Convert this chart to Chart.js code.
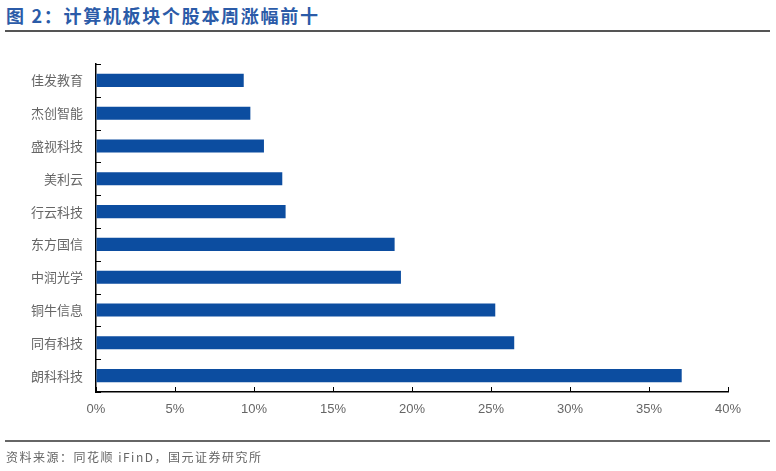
<!DOCTYPE html>
<html>
<head>
<meta charset="utf-8">
<script src="https://cdn.jsdelivr.net/npm/chart.js@4.4.0/dist/chart.umd.min.js"></script>
<style>
  body { margin: 0; background: #fff; width: 776px; height: 471px; position: relative; overflow: hidden; }
  #title { position: absolute; left: 6px; top: 2px; font: bold 18px "Noto Sans CJK SC", sans-serif; color: #2b5ba8; letter-spacing: 1.7px; }
  #topline { position: absolute; left: 5px; top: 30px; width: 765px; height: 2px; background: #555; }
  #botline { position: absolute; left: 5px; top: 440px; width: 765px; height: 2px; background: #666; }
  #source { position: absolute; left: 6px; top: 448px; font: 12px "Noto Sans CJK SC", sans-serif; color: #666; letter-spacing: 1.5px; }
  canvas { position: absolute; left: 0; top: 0; }
</style>
</head>
<body>
<div id="title">图 2：计算机板块个股本周涨幅前十</div>
<div id="topline"></div>
<canvas id="chart" width="776" height="471"></canvas>
<div id="botline"></div>
<div id="source">资料来源：同花顺 iFinD，国元证券研究所</div>
<script>
const stocks = ['佳发教育', '杰创智能', '盛视科技', '美利云', '行云科技', '东方国信', '中润光学', '铜牛信息', '同有科技', '朗科科技'];
const weeklyGain = [9.35, 9.77, 10.63, 11.79, 12.0, 18.9, 19.3, 25.27, 26.47, 37.07];
const xTicks = [0, 5, 10, 15, 20, 25, 30, 35, 40];

// inward tick marks on both axes
const innerTicks = {
    id: 'innerTicks',
    afterDraw(chart) {
        const ctx = chart.ctx;
        const x = chart.scales.x, y = chart.scales.y;
        ctx.save();
        ctx.strokeStyle = '#000';
        ctx.lineWidth = 1;
        ctx.beginPath();
        xTicks.forEach(v => {
            const px = Math.round(x.getPixelForValue(v)) + 0.5;
            ctx.moveTo(px, y.bottom);
            ctx.lineTo(px, y.bottom - 5);
        });
        for (let i = 0; i <= stocks.length; i++) {
            const py = Math.round(y.getPixelForValue(i - 0.5)) + 0.5;
            ctx.moveTo(x.left, py);
            ctx.lineTo(x.left + 5, py);
        }
        ctx.stroke();
        ctx.restore();
    }
};

new Chart(document.getElementById('chart'), {
    type: 'bar',
    data: {
        labels: stocks,
        datasets: [{
            data: weeklyGain,
            backgroundColor: '#0c4da0',
            borderWidth: 0,
            barPercentage: 0.8,
            categoryPercentage: 0.5
        }]
    },
    options: {
        indexAxis: 'y',
        responsive: false,
        animation: false,
        layout: { padding: { top: 64, right: 48, left: 0, bottom: 0 } },
        plugins: { legend: { display: false }, tooltip: { enabled: false } },
        scales: {
            x: {
                min: 0,
                max: 40,
                afterBuildTicks: s => { s.ticks = xTicks.map(v => ({ value: v })); },
                afterFit: s => { s.height = 79; },
                grid: { display: true, drawOnChartArea: false, drawTicks: false },
                border: { color: '#000', width: 1.5 },
                ticks: {
                    padding: 10,
                    color: '#666',
                    font: { family: 'Liberation Sans, sans-serif', size: 13 },
                    callback: v => v + '%'
                }
            },
            y: {
                afterFit: s => { s.width = 96; },
                grid: { display: false, drawTicks: false },
                border: { color: '#000', width: 1.5 },
                ticks: {
                    padding: 13,
                    color: '#666',
                    font: { family: 'Noto Sans CJK SC, sans-serif', size: 13 }
                }
            }
        }
    },
    plugins: [innerTicks]
});
</script>
</body>
</html>
